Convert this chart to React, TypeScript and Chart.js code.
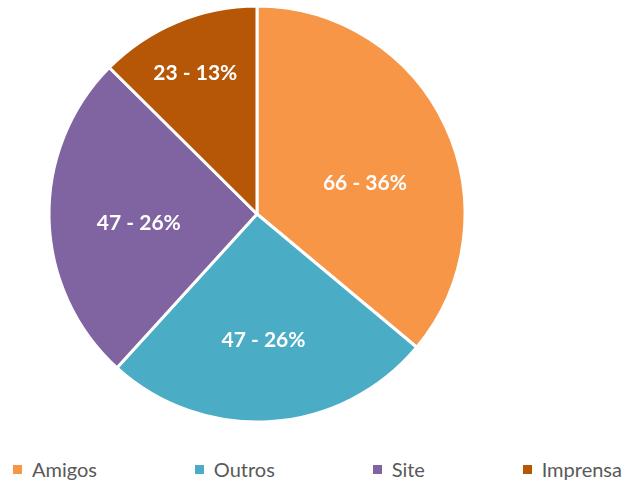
import React, { useEffect, useRef } from "react";
import { Chart, registerables } from "chart.js";

Chart.register(...registerables);

const categories = ["Amigos", "Outros", "Site", "Imprensa"];
const values = [66, 47, 47, 23];
const percentLabels = ["36%", "26%", "26%", "13%"];
const colors = ["#F79646", "#4BACC6", "#8064A2", "#B65708"];

// label placement style: [radius fraction, angle offset in degrees]
const labelPlacement: [number, number][] = [
  [0.54, 9],
  [0.61, 1],
  [0.57, -3],
  [0.74, -1],
];

const sliceLabelPlugin = {
  id: "sliceLabels",
  afterDatasetsDraw(chart: any) {
    const ctx = chart.ctx;
    const meta = chart.getDatasetMeta(0);
    ctx.save();
    ctx.font = "bold 21px Lato, 'Open Sans', sans-serif";
    ctx.fillStyle = "#FFFFFF";
    ctx.textAlign = "center";
    ctx.textBaseline = "middle";
    meta.data.forEach((arc: any, i: number) => {
      const { x, y, startAngle, endAngle, outerRadius } = arc.getProps(
        ["x", "y", "startAngle", "endAngle", "outerRadius"],
        true
      );
      const [frac, off] = labelPlacement[i];
      const mid = (startAngle + endAngle) / 2 + (off * Math.PI) / 180;
      const r = outerRadius * frac;
      const text = `${values[i]} - ${percentLabels[i]}`;
      ctx.fillText(text, x + Math.cos(mid) * r, y + Math.sin(mid) * r);
    });
    ctx.restore();
  },
};

export default function App() {
  const canvasRef = useRef<HTMLCanvasElement | null>(null);

  useEffect(() => {
    document.body.style.margin = "0";
    const chart = new Chart(canvasRef.current as HTMLCanvasElement, {
      type: "pie",
      data: {
        labels: categories,
        datasets: [
          {
            data: values,
            backgroundColor: colors,
            borderColor: "#FFFFFF",
            borderWidth: 3,
          },
        ],
      },
      options: {
        animation: false,
        responsive: false,
        maintainAspectRatio: false,
        layout: { padding: { top: 4.5, bottom: 16.5, left: 0, right: 111 } },
        plugins: {
          legend: { display: false },
          tooltip: { enabled: false },
        },
      },
      plugins: [sliceLabelPlugin],
    });
    return () => chart.destroy();
  }, []);

  return (
    <div style={{ position: "relative", width: 625, height: 484, background: "#fff" }}>
      <canvas ref={canvasRef} width={625} height={440} style={{ display: "block" }} />
      <div
        style={{
          position: "absolute",
          left: 13,
          right: 3,
          top: 455,
          height: 28,
          display: "flex",
          justifyContent: "space-between",
          alignItems: "center",
          fontFamily: "Lato, 'Open Sans', sans-serif",
          fontSize: 20,
          color: "#595959",
        }}
      >
        {categories.map((c, i) => (
          <div key={c} style={{ display: "flex", alignItems: "center" }}>
            <span
              style={{
                display: "inline-block",
                width: 9,
                height: 9,
                background: colors[i],
                marginRight: 10,
              }}
            />
            <span>{c}</span>
          </div>
        ))}
      </div>
    </div>
  );
}
